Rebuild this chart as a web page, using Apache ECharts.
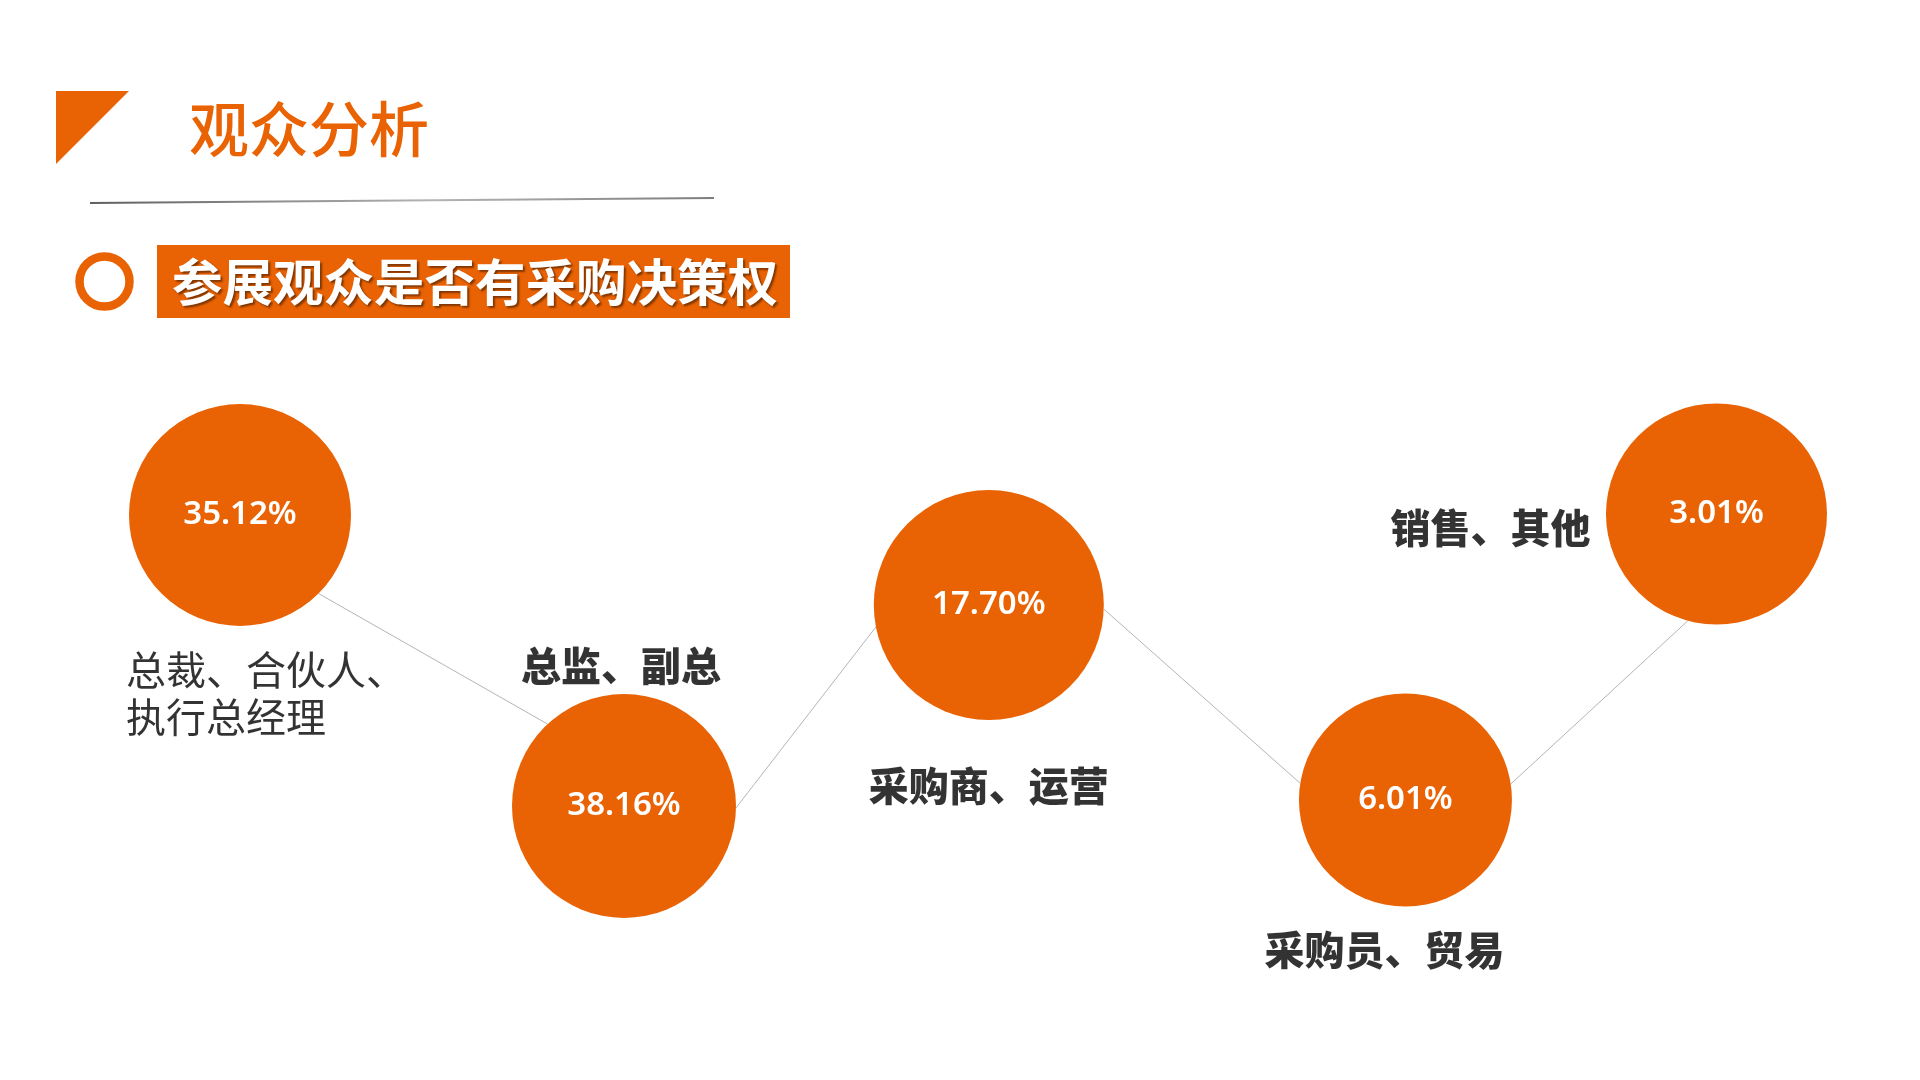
<!DOCTYPE html>
<html>
<head>
<meta charset="utf-8">
<title>观众分析</title>
<script src="https://cdn.jsdelivr.net/npm/echarts@6/dist/echarts.min.js"></script>
<style>
  html, body { margin: 0; padding: 0; background: #fff; }
  #main { width: 1920px; height: 1080px; }
</style>
</head>
<body>
<div id="main"></div>
<script>
// 数据
const categories = ['总裁、合伙人、\n执行总经理', '总监、副总', '采购商、运营', '采购员、贸易', '销售、其他'];
const shares = [35.12, 38.16, 17.70, 6.01, 3.01];

// 版式：每个圆所在的列/行（坐标轴单位），非数值
const colPos = [0.625, 1.625, 2.575, 3.66, 4.47];
const rowPos = [3.85, 0.94, 2.95, 1.0, 3.86];
const bubbleSize = [222, 224, 230, 213, 221];
// 连接线在圆周上的起止角度（度）
const lineFrom = [45, 1, 2, -8.6];
const lineTo = [-133, 169, -171, 105];
// 分类标签相对圆心的位置
const nameLabel = [
  { align: 'left', offset: [-114, 178], fontWeight: 'normal' },
  { align: 'center', offset: [-3, -140] },
  { align: 'center', offset: [0, 181] },
  { align: 'center', offset: [-21, 150] },
  { align: 'right', offset: [-126, 14] }
];

const ORANGE = '#E96203';
const CJK = '"Noto Sans CJK SC", "Noto Sans", sans-serif';

let points = shares.map((v, i) => [colPos[i], rowPos[i], v]);

let option = {
  backgroundColor: '#fff',
  animation: false,
  grid: { left: 0, right: 0, top: 400, bottom: 180 },
  xAxis: { type: 'value', min: 0, max: 5, show: false },
  yAxis: { type: 'value', min: 0, max: 5, show: false },
  graphic: [
    // 左上角三角
    {
      type: 'polygon',
      shape: { points: [[56, 91], [129, 91], [56, 164]] },
      style: { fill: ORANGE }
    },
    {
      type: 'text',
      left: 189, top: 99,
      style: { text: '观众分析', fill: ORANGE, font: '500 60px ' + CJK }
    },
    // 标题下的分隔线
    {
      type: 'line',
      shape: { x1: 90, y1: 203, x2: 714, y2: 198 },
      style: {
        lineWidth: 2,
        stroke: {
          type: 'linear', x: 0, y: 0, x2: 1, y2: 0,
          colorStops: [
            { offset: 0, color: '#5e5e5e' },
            { offset: 0.55, color: '#b4b4b4' },
            { offset: 1, color: '#7c7c7c' }
          ]
        }
      }
    },
    // 小标题
    {
      type: 'circle',
      shape: { cx: 104.5, cy: 281.5, r: 25 },
      style: { fill: 'none', stroke: ORANGE, lineWidth: 8.5 }
    },
    {
      type: 'rect',
      shape: { x: 157, y: 245, width: 633, height: 73 },
      style: { fill: ORANGE }
    },
    {
      type: 'text',
      x: 172, y: 281.5,
      style: {
        text: '参展观众是否有采购决策权',
        fill: '#fff',
        font: 'bold 50.5px ' + CJK,
        textVerticalAlign: 'middle',
        textShadowColor: 'rgba(0,0,0,0.45)',
        textShadowBlur: 2,
        textShadowOffsetX: 2,
        textShadowOffsetY: 2
      }
    }
  ],
  series: [
    {
      // 圆之间的连接线
      type: 'custom',
      z: 1,
      silent: true,
      data: points.slice(0, -1).map((p, i) => [p[0], p[1], points[i + 1][0], points[i + 1][1]]),
      renderItem: function (params, api) {
        let i = params.dataIndex;
        let a = api.coord([api.value(0), api.value(1)]);
        let b = api.coord([api.value(2), api.value(3)]);
        let ra = bubbleSize[i] / 2, rb = bubbleSize[i + 1] / 2;
        let t1 = lineFrom[i] * Math.PI / 180, t2 = lineTo[i] * Math.PI / 180;
        return {
          type: 'line',
          shape: {
            x1: a[0] + ra * Math.cos(t1), y1: a[1] + ra * Math.sin(t1),
            x2: b[0] + rb * Math.cos(t2), y2: b[1] + rb * Math.sin(t2)
          },
          style: { stroke: '#b5b5b5', lineWidth: 1 }
        };
      }
    },
    {
      // 圆 + 百分比
      type: 'scatter',
      z: 3,
      data: points,
      symbol: 'circle',
      symbolSize: function (val, params) { return bubbleSize[params.dataIndex]; },
      itemStyle: { color: ORANGE, opacity: 1 },
      label: {
        show: true,
        position: 'inside',
        formatter: p => p.value[2].toFixed(2) + '%',
        color: '#fff',
        fontFamily: '"Noto Sans", sans-serif',
        fontWeight: 600,
        fontSize: 33
      },
      emphasis: { disabled: true }
    },
    {
      // 分类名称
      type: 'scatter',
      z: 4,
      symbolSize: 0,
      data: points.map((p, i) => ({
        value: p,
        name: categories[i],
        label: nameLabel[i]
      })),
      label: {
        show: true,
        position: 'inside',
        formatter: '{b}',
        color: '#000',
        fontFamily: CJK,
        fontWeight: 900,
        fontSize: 40,
        lineHeight: 47,
        verticalAlign: 'middle'
      },
      emphasis: { disabled: true }
    }
  ]
};

let chart = echarts.init(document.getElementById('main'));
chart.setOption(option);
</script>
</body>
</html>
